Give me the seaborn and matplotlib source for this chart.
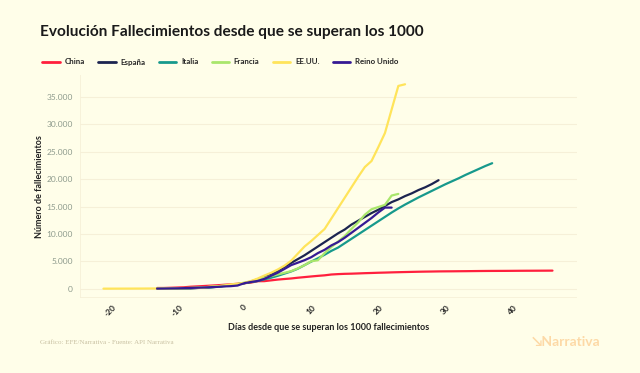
import numpy as np
import pandas as pd
import seaborn as sns
import matplotlib.pyplot as plt

# values (days since 1000 deaths -> cumulative deaths)
paises = ["China", "España", "Italia", "Francia", "EE.UU.", "Reino Unido"]
colores = ["#ff1f3d", "#1c2450", "#17998c", "#a9e66b", "#ffe45a", "#351a94"]

china_dias = list(range(-13, 47))
china = [131, 133, 171, 213, 259, 361, 425, 490, 562, 632, 717, 804, 904,
         1011, 1112, 1367, 1380, 1523, 1665, 1770, 1868, 2004, 2118, 2236,
         2345, 2442, 2592, 2663, 2715, 2744, 2788, 2835, 2870, 2912, 2943,
         2981, 3013, 3042, 3070, 3097, 3119, 3136, 3158, 3169, 3176, 3189,
         3199, 3213, 3226, 3237, 3245, 3249, 3253, 3261, 3270, 3277, 3281,
         3287, 3292, 3300]

espana_dias = list(range(-13, 30))
espana = [10, 17, 28, 35, 54, 55, 133, 195, 289, 342, 533, 623, 830,
          1000, 1300, 1700, 2150, 2700, 3300, 4000, 4700, 5400, 6100, 6900,
          7700, 8500, 9300, 10100, 10800, 11700, 12400, 13100, 13800, 14400,
          15100, 15800, 16300, 16900, 17400, 18000, 18500, 19100, 19800]

italia_dias = list(range(-13, 38))
italia = [21, 29, 34, 52, 79, 107, 148, 197, 233, 366, 463, 631, 827,
          1016, 1200, 1400, 1700, 2000, 2350, 2750, 3150, 3650, 4300, 4950,
          5550, 6200, 6900, 7500, 8300, 9100, 9900, 10700, 11500, 12300,
          13100, 13900, 14650, 15350, 16000, 16650, 17250, 17850, 18450,
          19050, 19600, 20150, 20750, 21300, 21850, 22400, 22900]

francia_dias = list(range(-13, 24))
francia = [48, 61, 79, 91, 127, 148, 175, 244, 372, 450, 562, 674, 860,
           1100, 1331, 1696, 1995, 2300, 2600, 2900, 3200, 3700, 4300, 5000,
           5200, 6500, 7600, 8600, 9600, 10900, 12100, 13500, 14500, 14900,
           15300, 17000, 17300]

eeuu_dias = list(range(-21, 25))
eeuu = [11, 12, 15, 19, 22, 26, 30, 38, 41, 48, 58, 73, 99, 133, 164, 258,
        349, 442, 586, 786, 900,
        1050, 1400, 1850, 2400, 2900, 3500, 4200, 5100, 6400, 7700, 8700,
        9800, 10900, 12800, 14700, 16600, 18500, 20400, 22200, 23300, 25800,
        28400, 32700, 37000, 37300]

ru_dias = list(range(-13, 23))
reino_unido = [21, 35, 55, 71, 104, 144, 177, 233, 281, 335, 422, 465, 578,
               1000, 1230, 1410, 1790, 2350, 2920, 3600, 4300, 4750, 5200,
               5750, 6500, 7100, 7900, 8500, 9300, 10200, 11100, 12000,
               12900, 13900, 14800, 14800]

series = [china, espana, italia, francia, eeuu, reino_unido]
dias = [china_dias, espana_dias, italia_dias, francia_dias, eeuu_dias, ru_dias]

frames = []
for p, d, v in zip(paises, dias, series):
    frames.append(pd.DataFrame({"dia": d, "muertes": v, "pais": p}))
df = pd.concat(frames, ignore_index=True)

fondo = "#fffee9"
sns.set_style("white")
plt.rcParams["font.family"] = ["Lato", "DejaVu Sans"]

fig = plt.figure(figsize=(6.4, 3.73), dpi=100, facecolor=fondo)
ax = fig.add_axes([0.125, 0.201, 0.777, 0.598])
ax.set_facecolor(fondo)

sns.lineplot(data=df, x="dia", y="muertes", hue="pais", hue_order=paises,
             palette=dict(zip(paises, colores)), linewidth=1.6, ax=ax,
             legend=False)

ax.set_xlim(-24.5, 49.7)
ax.set_ylim(-1700, 39000)
ax.set_yticks(range(0, 35001, 5000))
ax.set_yticklabels(["0" if t == 0 else f"{t:,}".replace(",", ".")
                    for t in range(0, 35001, 5000)])
ax.set_xticks(range(-20, 41, 10))
ax.set_xticklabels([str(t) for t in range(-20, 41, 10)], rotation=45,
                   ha="center", fontsize=6, fontweight="bold", color="#222222")
ax.tick_params(axis="y", labelsize=6, labelcolor="#8d9a8c", length=0, pad=5)
ax.tick_params(axis="x", length=0, pad=4)
ax.grid(axis="y", color="#f6f0d8", linewidth=0.8)
for s in ax.spines.values():
    s.set_visible(False)
ax.axhline(-1700, color="#f6f0d8", linewidth=1.2)
ax.axvline(-24.5, color="#f6f0d8", linewidth=1.2)

ax.set_xlabel("Días desde que se superan los 1000 fallecimientos",
              fontsize=6.5, fontweight="bold", color="#222222", labelpad=4)
ax.set_ylabel("Número de fallecimientos", fontsize=6.5, fontweight="bold",
              color="#222222", labelpad=2)

fig.text(40 / 640, 1 - 32 / 373, "Evolución Fallecimientos desde que se superan los 1000",
         fontsize=11.1, fontweight="bold", color="#1a1a1a", va="center")

handles = [plt.Line2D([], [], color=c, linewidth=2) for c in colores]
fig.legend(handles, paises, loc="center left", bbox_to_anchor=(0.055, 1 - 62 / 373),
           ncol=6, frameon=False, handlelength=2.2, handletextpad=0.6,
           columnspacing=1.7, prop={"size": 5.7, "weight": "bold"})

fig.text(40 / 640, 1 - 343 / 373, "Gráfico: EFE/Narrativa - Fuente: API Narrativa",
         fontsize=5, color="#c9c1a3", family="Liberation Serif", va="center")
fig.text(532 / 640, 1 - 342 / 373, "\u2198Narrativa", fontsize=10,
         fontweight="bold", color="#fdd9a6", va="center")

fig.savefig("out.png", dpi=100, facecolor=fondo)
